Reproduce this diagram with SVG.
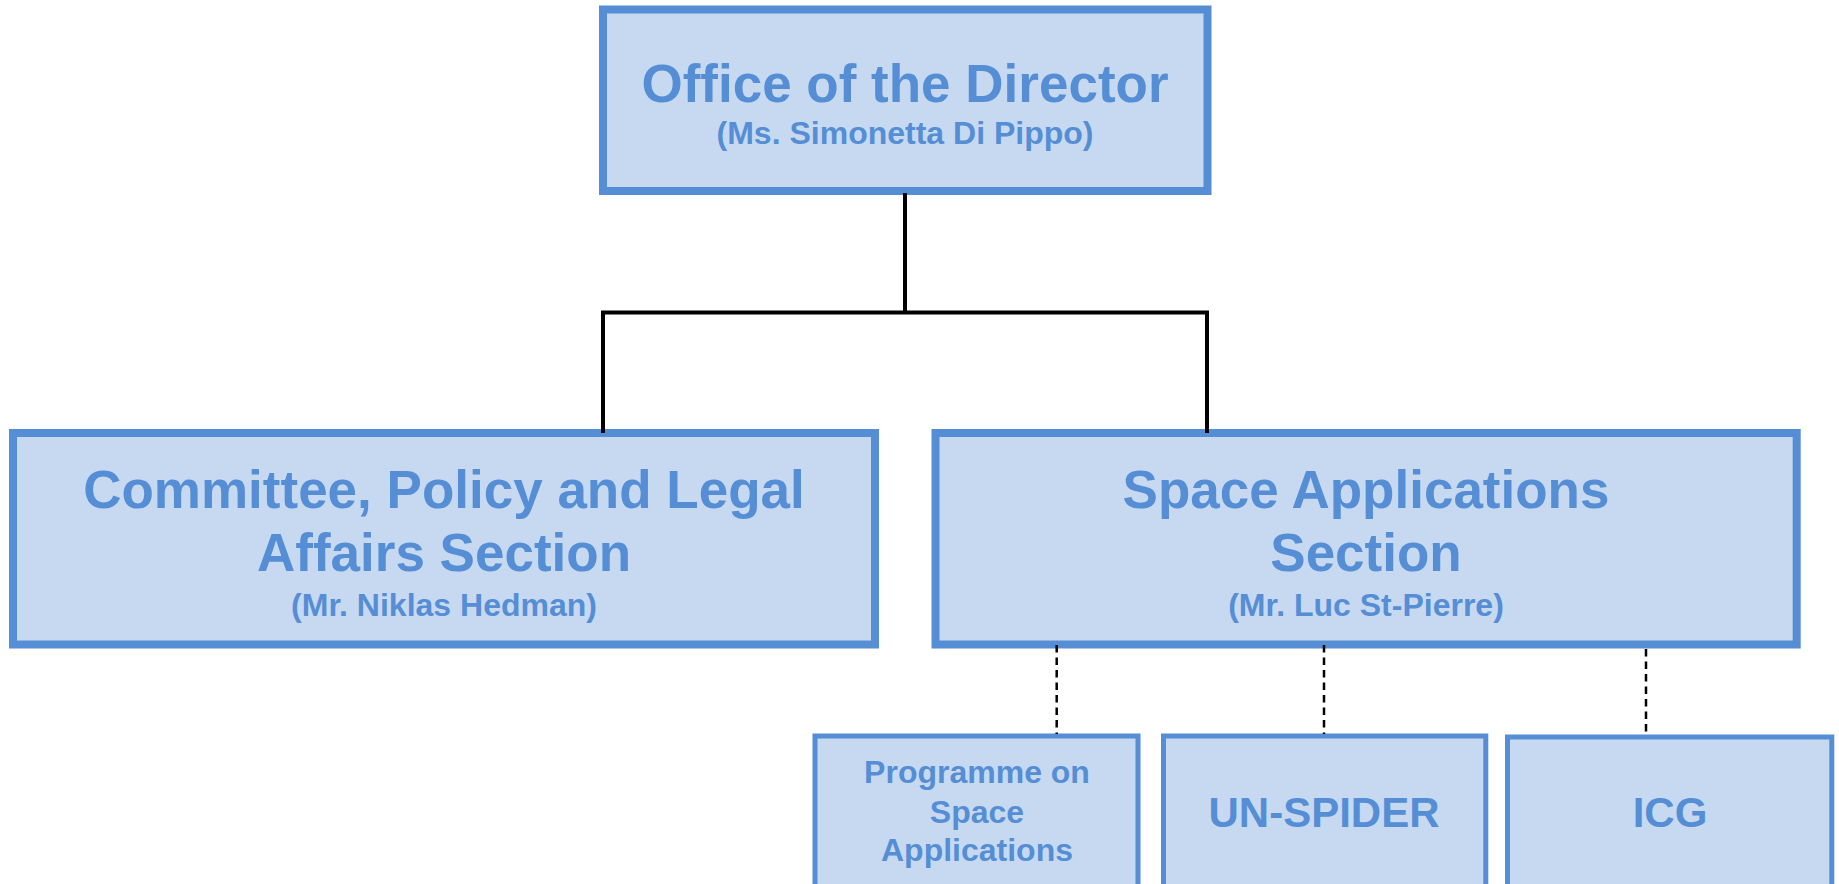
<svg xmlns="http://www.w3.org/2000/svg" width="1839" height="884" viewBox="0 0 1839 884">
<style>
.box{fill:#C6D9F1;stroke:#558ED5;stroke-width:8}
.sbox{fill:#C6D9F1;stroke:#558ED5;stroke-width:5}
text{font-family:"Liberation Sans",Arial,sans-serif;font-weight:bold;fill:#558ED5;text-anchor:middle}
.t{font-size:53px}
.s{font-size:32px}
.m{font-size:42px}
.solid{stroke:#000;stroke-width:4;fill:none}
.dash{stroke:#000;stroke-width:2.5;fill:none;stroke-dasharray:7.5 5}
</style>
<rect width="1839" height="884" fill="#fff"/>
<g id="director">
<rect class="box" x="603" y="9.5" width="604.5" height="181.5"/>
<text class="t" x="905" y="102">Office of the Director</text>
<text class="s" x="905" y="144">(Ms. Simonetta Di Pippo)</text>
</g>
<g id="cpla">
<rect class="box" x="13" y="433" width="862" height="211.5"/>
<text class="t" x="444" y="508">Committee, Policy and Legal</text>
<text class="t" x="444" y="571">Affairs Section</text>
<text class="s" x="444" y="616">(Mr. Niklas Hedman)</text>
</g>
<g id="sas">
<rect class="box" x="935.5" y="433" width="861.2" height="211.5"/>
<text class="t" x="1366" y="508">Space Applications</text>
<text class="t" x="1366" y="571">Section</text>
<text class="s" x="1366" y="616">(Mr. Luc St-Pierre)</text>
</g>
<g id="psa">
<rect class="sbox" x="815" y="736" width="323" height="200"/>
<text class="s" x="977" y="783">Programme on</text>
<text class="s" x="977" y="823">Space</text>
<text class="s" x="977" y="861">Applications</text>
</g>
<g id="unspider">
<rect class="sbox" x="1163.5" y="736" width="322.3" height="200"/>
<text class="m" x="1324" y="827">UN-SPIDER</text>
</g>
<g id="icg">
<rect class="sbox" x="1507.5" y="737" width="324.3" height="200"/>
<text class="m" x="1670" y="827">ICG</text>
</g>
<g id="connectors">
<path class="solid" d="M905 193V312.5M603 312.5H1207M603 310.5V433M1207 310.5V433"/>
<path class="dash" d="M1056.7 645V734"/>
<path class="dash" d="M1324 645V734"/>
<path class="dash" d="M1646 649V734"/>
</g>
</svg>
